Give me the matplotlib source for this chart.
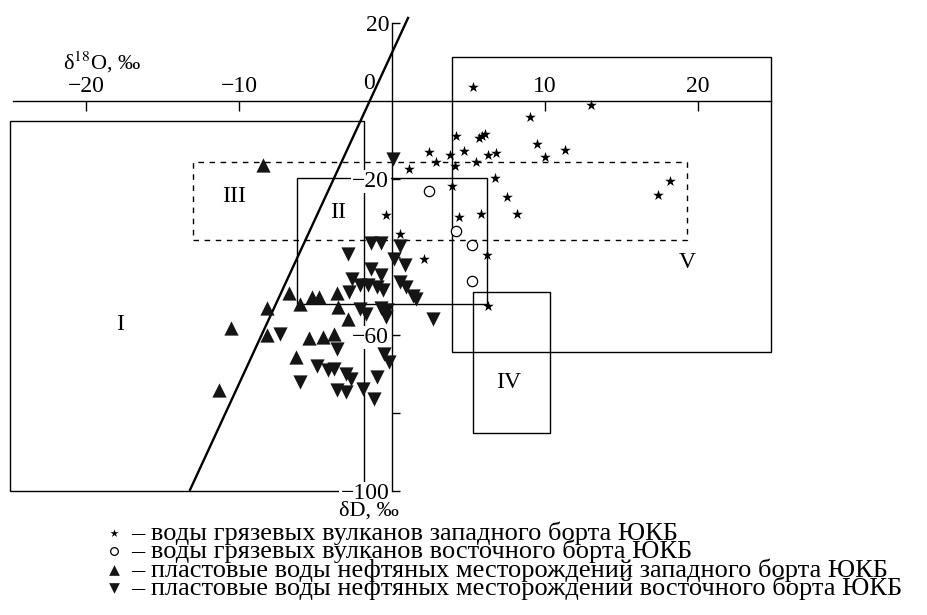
import numpy as np
import matplotlib.pyplot as plt
from matplotlib.patches import Rectangle

plt.rcParams['font.family'] = ['Liberation Serif', 'DejaVu Serif']
plt.rcParams['mathtext.fontset'] = 'stix'

# mud volcano waters, western side (stars)
west_mv_o = [5.3, 13.0, 9.0, 4.2, 5.7, 5.9, 6.1, 9.5, 11.3, 2.4, 3.8, 4.7, 6.3, 6.8, 10.0, 2.9,
             4.1, 5.5, 6.7, 3.9, 7.5, 18.2, 17.4, 4.4, 5.8, 8.2, 2.1, 6.2, 6.3, 1.1, -0.4, 0.5]
west_mv_d = [3.6, -0.9, -4.1, -9.0, -9.5, -9.0, -8.5, -10.9, -12.5, -13.1, -13.8, -12.7, -13.8, -13.3,
             -14.4, -15.6, -16.7, -15.6, -19.7, -21.9, -24.6, -20.5, -24.0, -29.7, -29.1, -28.9,
             -40.6, -39.6, -52.6, -17.4, -29.3, -34.0]

# mud volcano waters, eastern side (circles)
east_mv_o = [2.4, 4.2, 5.2, 5.2]
east_mv_d = [-23.2, -33.3, -37.0, -46.2]

# oil field formation waters, western side (up triangles)
west_oil_o = [-8.4, -6.7, -8.2, -6.0, -5.2, -4.8, -3.6, -3.5, -10.5, -8.2, -5.4, -4.5, -3.8, -6.3,
              -11.3, -2.9]
west_oil_d = [-16.5, -49.2, -53.1, -52.0, -50.3, -50.3, -49.2, -52.8, -58.2, -60.1, -60.8, -60.5,
              -59.7, -65.6, -74.2, -55.8]

# oil field formation waters, eastern side (down triangles)
east_oil_o = [0.05, -1.4, -0.7, 0.5, -2.9, 0.15, 0.85, -1.4, -0.7, -2.6, 0.5, -2.1, -1.6, -1.0,
              -0.6, -2.8, 0.9, 1.35, 1.6, 2.7, -2.1, -1.7, -0.7, -0.3, -0.4, -3.6, -0.5, -0.2,
              -3.8, -3.0, -2.7, -1.0, -3.6, -3.0, -1.9, -1.2, -7.3, -6.0, -4.9, -4.2]
east_oil_d = [-14.8, -36.3, -36.3, -37.2, -39.3, -40.4, -42.1, -43.0, -44.7, -45.6, -46.4, -47.3,
              -47.1, -47.7, -48.5, -49.0, -47.7, -50.0, -50.8, -56.0, -53.4, -54.5, -53.0, -53.7,
              -55.4, -63.5, -64.8, -66.9, -68.6, -69.9, -71.2, -70.8, -74.2, -74.6, -73.8, -76.3,
              -59.7, -72.1, -68.0, -69.0]

# meteoric water line, end points
gmwl_o = [-13.2, 1.05]
gmwl_d = [-99.7, 21.3]

# genetic zones: δ18O range, δD range
zone_names = ['I', 'II', 'III', 'IV', 'V']
zone_o = [(-25.0, -1.8), (-6.2, 6.2), (-13.0, 19.3), (5.3, 10.3), (3.9, 24.8)]
zone_d = [(-100.0, -5.0), (-52.0, -19.7), (-35.6, -15.6), (-85.0, -49.0), (-64.4, 11.3)]
zone_dashed = [False, False, True, False, False]
zone_label_pos = [(-17.8, -57.4), (-3.5, -28.7), (-10.3, -24.6), (7.6, -72.3), (19.3, -41.3)]

labels = ['– воды грязевых вулканов западного борта ЮКБ',
          '– воды грязевых вулканов восточного борта ЮКБ',
          '– пластовые воды нефтяных месторождений западного борта ЮКБ',
          '– пластовые воды нефтяных месторождений восточного борта ЮКБ']

fig = plt.figure(figsize=(9.27, 6.15), dpi=100)
ax = fig.add_axes([0, 0, 1, 1])
ax.set_xlim(-392 / 15.3, (927 - 392) / 15.3)
ax.set_ylim((101 - 615) / 3.9, 101 / 3.9)

# zones
for name, (o0, o1), (d0, d1), dashed, pos in zip(zone_names, zone_o, zone_d, zone_dashed, zone_label_pos):
    ax.add_patch(Rectangle((o0, d0), o1 - o0, d1 - d0, fill=False, lw=1.0, ec='black',
                           ls=(0, (4, 4)) if dashed else '-'))
    ax.text(pos[0], pos[1], name, fontsize=17, ha='center', va='center')

ax.plot(gmwl_o, gmwl_d, color='black', lw=1.7)

h1 = ax.scatter(west_mv_o, west_mv_d, marker='*', s=65, c='black', lw=0, zorder=3)
h2 = ax.scatter(east_mv_o, east_mv_d, marker='o', s=55, facecolors='white', edgecolors='black',
                lw=0.9, zorder=3)
h3 = ax.scatter(west_oil_o, west_oil_d, marker='^', s=105, c='#151515', lw=0, zorder=3)
h4 = ax.scatter(east_oil_o, east_oil_d, marker='v', s=105, c='#151515', lw=0, zorder=3)

# axes drawn through the origin
for side in ['right', 'bottom']:
    ax.spines[side].set_visible(False)
ax.spines['top'].set_position(('data', 0))
ax.spines['top'].set_bounds(-24.8, 24.8)
ax.spines['left'].set_position(('data', 0))
ax.spines['left'].set_bounds(-100, 20)
for side in ['top', 'left']:
    ax.spines[side].set_linewidth(1.0)

ax.xaxis.tick_top()
ax.set_xticks([-20, -10, 10, 20])
ax.set_xticklabels(['−20', '−10', '10', '20'])
ax.set_yticks([20, -20, -60, -100])
ax.set_yticklabels(['20', '−20', '−60', '−100'])
ax.set_yticks([-40, -80], minor=True)
ax.tick_params(axis='x', direction='in', length=7, width=1, pad=3, labelsize=17)
ax.tick_params(axis='y', which='both', direction='in', length=6, width=1, pad=2, labelsize=17)
for lab in ax.get_yticklabels():
    lab.set_bbox(dict(fc='white', ec='none', pad=1))
ax.set_facecolor('none')

ax.text(-1.5, 4.6, '0', fontsize=17, ha='center', va='center')
ax.text(-21.5, 10.0, r'δ$^{18}$O, ‰', fontsize=16, ha='left', va='center')
ax.text(-1.5, -105.2, 'δD, ‰', fontsize=16, ha='center', va='center')

ax.legend([h1, h2, h3, h4], labels, loc='upper left', bbox_to_anchor=(92 / 927, 1 - 508 / 615),
          frameon=False, fontsize=19, handlelength=0.7, handletextpad=0.3, borderpad=0,
          labelspacing=-0.19, markerscale=0.75)

fig.savefig('out.png', dpi=100)
